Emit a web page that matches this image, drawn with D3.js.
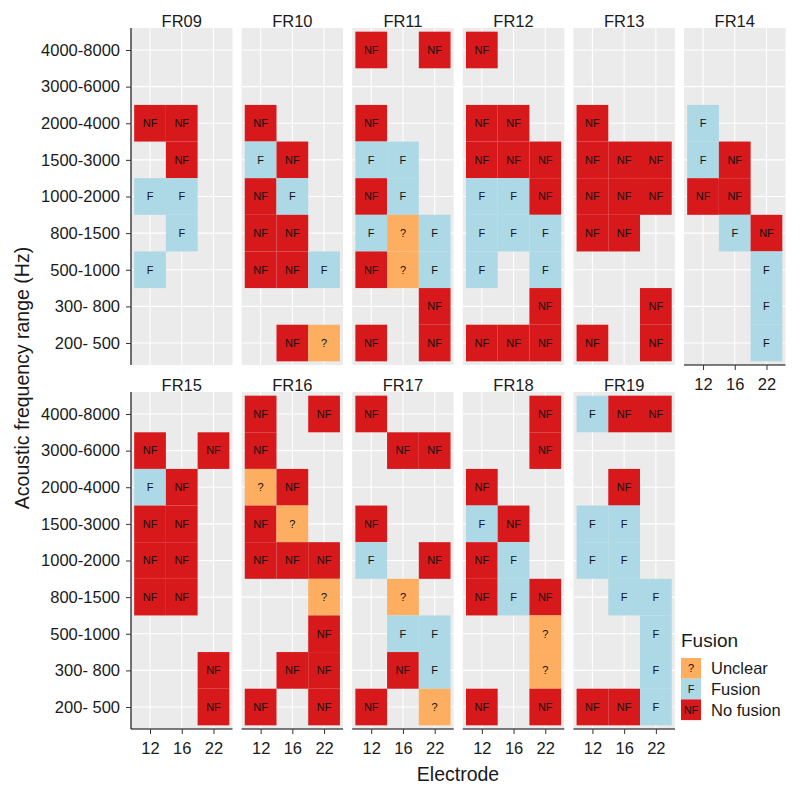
<!DOCTYPE html>
<html>
<head>
<meta charset="utf-8">
<script src="https://cdn.jsdelivr.net/npm/d3@7"></script>
<style>
  html, body { margin: 0; padding: 0; background: #fff; }
  svg { display: block; font-family: "Liberation Sans", Arial, Helvetica, sans-serif; }
</style>
</head>
<body>
<svg id="chart" width="800" height="795"></svg>
<script>
// ---------------- DATA ----------------
const panelNames = ["FR09","FR10","FR11","FR12","FR13","FR14","FR15","FR16","FR17","FR18","FR19"];
const electrodes = ["12","16","22"];
// frequency ranges, bottom to top
const frequencies = ["200- 500","300- 800","500-1000","800-1500","1000-2000","1500-3000","2000-4000","3000-6000","4000-8000"];
const fusionLevels = ["Unclear","Fusion","No fusion"];
const fusionCodes  = ["?","F","NF"];

// Each panel: rows listed from TOP (4000-8000) to BOTTOM (200- 500); columns electrode 12, 16, 22
const FR09 = [["","",""],["","",""],["NF","NF",""],["","NF",""],["F","F",""],["","F",""],["F","",""],["","",""],["","",""]];
const FR10 = [["","",""],["","",""],["NF","",""],["F","NF",""],["NF","F",""],["NF","NF",""],["NF","NF","F"],["","",""],["","NF","?"]];
const FR11 = [["NF","","NF"],["","",""],["NF","",""],["F","F",""],["NF","F",""],["F","?","F"],["NF","?","F"],["","","NF"],["NF","","NF"]];
const FR12 = [["NF","",""],["","",""],["NF","NF",""],["NF","NF","NF"],["F","F","NF"],["F","F","F"],["F","","F"],["","","NF"],["NF","NF","NF"]];
const FR13 = [["","",""],["","",""],["NF","",""],["NF","NF","NF"],["NF","NF","NF"],["NF","NF",""],["","",""],["","","NF"],["NF","","NF"]];
const FR14 = [["","",""],["","",""],["F","",""],["F","NF",""],["NF","NF",""],["","F","NF"],["","","F"],["","","F"],["","","F"]];
const FR15 = [["","",""],["NF","","NF"],["F","NF",""],["NF","NF",""],["NF","NF",""],["NF","NF",""],["","",""],["","","NF"],["","","NF"]];
const FR16 = [["NF","","NF"],["NF","",""],["?","NF",""],["NF","?",""],["NF","NF","NF"],["","","?"],["","","NF"],["","NF","NF"],["NF","","NF"]];
const FR17 = [["NF","",""],["","NF","NF"],["","",""],["NF","",""],["F","","NF"],["","?",""],["","F","F"],["","NF","F"],["NF","","?"]];
const FR18 = [["","","NF"],["","","NF"],["NF","",""],["F","NF",""],["NF","F",""],["NF","F","NF"],["","","?"],["","","?"],["NF","","NF"]];
const FR19 = [["F","NF","NF"],["","",""],["","NF",""],["F","F",""],["F","F",""],["","F","F"],["","","F"],["","","F"],["NF","NF","F"]];
const panelGrids = [FR09,FR10,FR11,FR12,FR13,FR14,FR15,FR16,FR17,FR18,FR19];

// ---------------- BUILD RECORDS ----------------
const records = [];
panelNames.forEach((p, pi) => {
  const grid = panelGrids[pi];
  grid.forEach((row, ri) => {
    const freq = frequencies[frequencies.length - 1 - ri];
    row.forEach((code, ci) => {
      if (code) records.push({panel: p, electrode: electrodes[ci], freq, code});
    });
  });
});

// ---------------- LAYOUT ----------------
const svg = d3.select("#chart");
const nCol = 6;
const panelW = 101.5, panelH = 337;
const colStep = 110.6;
const left0 = 131;
const rowTops = [28, 392];

const fillScale = d3.scaleOrdinal().domain(fusionCodes).range(["#FDAE61", "#ADD8E6", "#D7191C"]);

const x = d3.scalePoint().domain(electrodes).range([0, panelW]).padding(0.6);
const y = d3.scalePoint().domain(frequencies).range([panelH, 0]).padding(0.6);
const tileW = x.step(), tileH = y.step();

const textColor = "#1a1a1a";
const tickFont = 16.5, titleFont = 19.5, tileFont = 11;

panelNames.forEach((p, pi) => {
  const col = pi % nCol, row = Math.floor(pi / nCol);
  const px = left0 + col * colStep, py = rowTops[row];
  const g = svg.append("g").attr("transform", `translate(${px},${py})`);

  // background
  g.append("rect").attr("width", panelW).attr("height", panelH).attr("fill", "#EBEBEB");
  // grid
  g.selectAll("line.gx").data(electrodes).join("line")
    .attr("x1", d => x(d)).attr("x2", d => x(d)).attr("y1", 0).attr("y2", panelH)
    .attr("stroke", "#fff").attr("stroke-width", 1.1);
  g.selectAll("line.gy").data(frequencies).join("line")
    .attr("y1", d => y(d)).attr("y2", d => y(d)).attr("x1", 0).attr("x2", panelW)
    .attr("stroke", "#fff").attr("stroke-width", 1.1);

  // tiles
  const recs = records.filter(r => r.panel === p);
  g.selectAll("rect.tile").data(recs).join("rect")
    .attr("class", "tile")
    .attr("x", d => x(d.electrode) - tileW / 2)
    .attr("y", d => y(d.freq) - tileH / 2)
    .attr("width", tileW).attr("height", tileH)
    .attr("fill", d => fillScale(d.code));
  g.selectAll("text.lab").data(recs).join("text")
    .attr("class", "lab")
    .attr("x", d => x(d.electrode))
    .attr("y", d => y(d.freq))
    .attr("dy", "0.35em")
    .attr("text-anchor", "middle")
    .attr("font-size", tileFont)
    .attr("fill", "#111")
    .text(d => d.code);

  // strip text
  svg.append("text")
    .attr("x", px + panelW / 2).attr("y", py - 1.5)
    .attr("text-anchor", "middle").attr("font-size", tickFont).attr("fill", textColor)
    .text(p);

  // left axis
  if (col === 0) {
    const ax = g.append("g").call(d3.axisLeft(y).tickSize(5).tickPadding(6));
    ax.attr("font-family", null).attr("font-size", null);
    ax.select(".domain").attr("d", `M0,0V${panelH}`).attr("stroke", "#000").attr("stroke-width", 1.1);
    ax.selectAll(".tick line").attr("stroke", "#333");
    ax.selectAll(".tick text").attr("font-size", tickFont).attr("fill", textColor);
  }
  // bottom axis: bottom row or no panel below
  const hasBelow = (pi + nCol) < panelNames.length;
  if (!hasBelow) {
    const ax = g.append("g").attr("transform", `translate(0,${panelH})`)
      .call(d3.axisBottom(x).tickSize(5).tickPadding(8));
    ax.attr("font-family", null).attr("font-size", null);
    ax.select(".domain").attr("d", `M0,0H${panelW}`).attr("stroke", "#000").attr("stroke-width", 1.1);
    ax.selectAll(".tick line").attr("stroke", "#333");
    ax.selectAll(".tick text").attr("font-size", tickFont).attr("fill", textColor);
  }
});

// axis titles
svg.append("text")
  .attr("x", 458).attr("y", 781)
  .attr("text-anchor", "middle").attr("font-size", titleFont).attr("fill", textColor)
  .text("Electrode");
svg.append("text")
  .attr("transform", "translate(29,378) rotate(-90)")
  .attr("text-anchor", "middle").attr("font-size", titleFont).attr("fill", textColor)
  .text("Acoustic frequency range (Hz)");

// legend
const lg = svg.append("g").attr("transform", "translate(681,647)");
lg.append("text").attr("x", 0).attr("y", 0).attr("font-size", 19).attr("fill", textColor).text("Fusion");
const keyH = 20.7, keyW = 20;
fusionCodes.forEach((c, i) => {
  const ky = 11 + i * keyH;
  lg.append("rect").attr("x", 0).attr("y", ky).attr("width", keyW).attr("height", keyH)
    .attr("fill", fillScale(c));
  lg.append("text").attr("x", keyW / 2).attr("y", ky + keyH / 2).attr("dy", "0.35em")
    .attr("text-anchor", "middle").attr("font-size", tileFont).attr("fill", "#111").text(c);
  lg.append("text").attr("x", 30).attr("y", ky + keyH / 2).attr("dy", "0.35em")
    .attr("font-size", tickFont).attr("fill", textColor).text(fusionLevels[i]);
});
</script>
</body>
</html>
